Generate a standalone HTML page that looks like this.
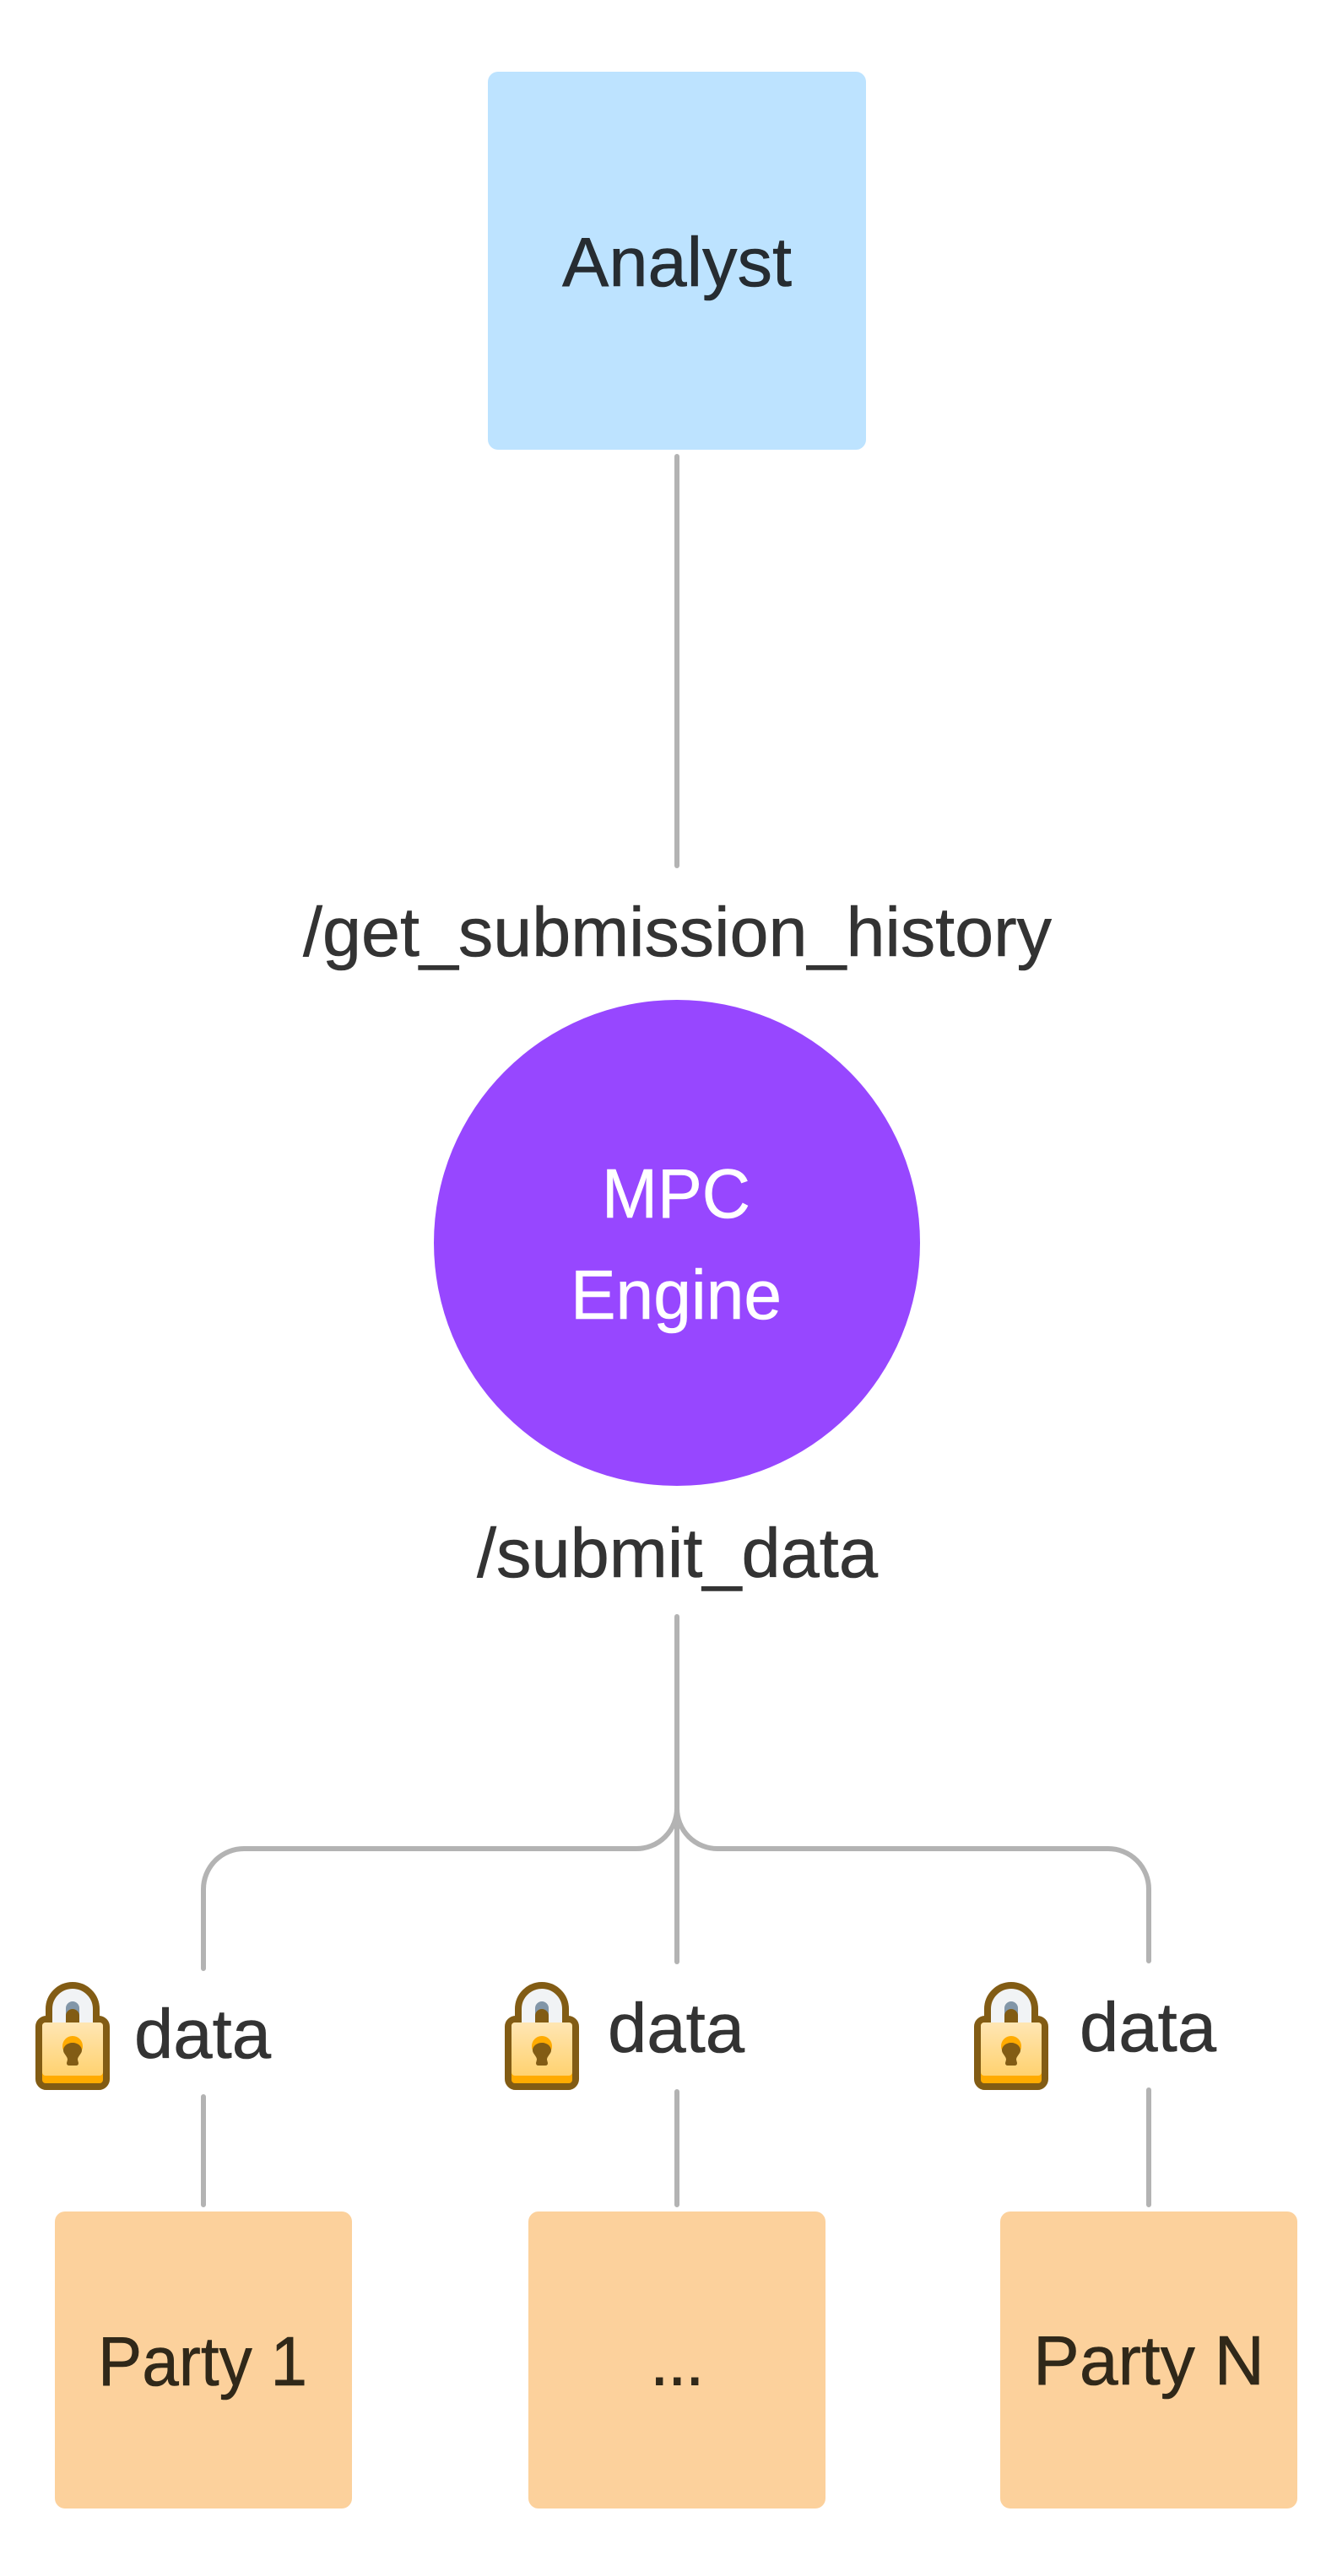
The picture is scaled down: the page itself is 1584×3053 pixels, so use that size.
<!DOCTYPE html>
<html><head><meta charset="utf-8"><style>
html,body{margin:0;padding:0;background:#fff;width:1584px;height:3053px;overflow:hidden}
svg{display:block}
text{font-family:"Liberation Sans",sans-serif;font-size:83px;stroke-width:.6px}
</style></head><body>
<svg width="1584" height="3053" viewBox="0 0 1584 3053" xmlns="http://www.w3.org/2000/svg">
<defs><linearGradient id="g" x1="0" y1="0" x2="0" y2="1"><stop offset="0" stop-color="#ffe6b3"/><stop offset="1" stop-color="#ffd270"/></linearGradient></defs>
<rect width="1584" height="3053" fill="#fff"/>
<rect x="578" y="85" width="448" height="448" rx="12" fill="#bde3ff"/>
<text x="666" y="339" fill="#262c31" stroke="#262c31" textLength="272" lengthAdjust="spacingAndGlyphs">Analyst</text>
<circle cx="802" cy="1473" r="288" fill="#9747ff"/>
<text x="713" y="1443" fill="#fff" stroke="#fff" textLength="176" lengthAdjust="spacingAndGlyphs">MPC</text>
<text x="676" y="1563" fill="#fff" stroke="#fff" textLength="250" lengthAdjust="spacingAndGlyphs">Engine</text>
<text x="359" y="1133" fill="#333" stroke="#333" textLength="887" lengthAdjust="spacingAndGlyphs">/get_submission_history</text>
<text x="565" y="1869" fill="#333" stroke="#333" textLength="475" lengthAdjust="spacingAndGlyphs">/submit_data</text>
<g fill="none" stroke="#b3b3b3" stroke-width="6" stroke-linecap="round">
<path d="M802 541V1026"/>
<path d="M802 1916V2325"/>
<path d="M802 2143A48 48 0 0 1 754 2191H289A48 48 0 0 0 241 2239V2333"/>
<path d="M802 2143A48 48 0 0 0 850 2191H1313A48 48 0 0 1 1361 2239V2324"/>
<path d="M241 2485V2613M802 2479V2613M1361 2477V2613"/>
</g>
<rect x="65" y="2621" width="352" height="352" rx="12" fill="#fcd19c"/>
<rect x="626" y="2621" width="352" height="352" rx="12" fill="#fcd19c"/>
<rect x="1185" y="2621" width="352" height="352" rx="12" fill="#fcd19c"/>
<text x="116" y="2827" fill="#302819" stroke="#302819" textLength="248" lengthAdjust="spacingAndGlyphs">Party 1</text>
<text x="1224" y="2826" fill="#302819" stroke="#302819" textLength="274" lengthAdjust="spacingAndGlyphs">Party N</text>
<text x="769 790 811" y="2827" fill="#302819" style="font-size:88px">...</text>
<text x="159" y="2439" fill="#333" stroke="#333" textLength="162" lengthAdjust="spacingAndGlyphs">data</text>
<text x="720" y="2432" fill="#333" stroke="#333" textLength="162" lengthAdjust="spacingAndGlyphs">data</text>
<text x="1279" y="2431" fill="#333" stroke="#333" textLength="162" lengthAdjust="spacingAndGlyphs">data</text>

<g>
<rect x="46" y="2393" width="80" height="80" rx="9" fill="#825c14" stroke="#825c14" stroke-width="8"/>
<path d="M58 2397V2381A28 28 0 0 1 114 2381V2397" fill="#f1f3f5" stroke="#825c14" stroke-width="8"/>
<path d="M78 2397V2380A8 8 0 0 1 94 2380V2397Z" fill="#8296a8"/>
<path d="M78 2397V2389A8 8 0 0 1 94 2389V2397Z" fill="#825c14"/>
<rect x="50" y="2397" width="72" height="72" rx="4" fill="#ffab00"/>
<path d="M50 2401A4 4 0 0 1 54 2397H118A4 4 0 0 1 122 2401V2456A4 4 0 0 1 118 2460H54A4 4 0 0 1 50 2456Z" fill="url(#g)"/>
<circle cx="86" cy="2425" r="12" fill="#ffab00"/>
<path d="M86 2421C92 2421 97 2425 97 2430C97 2434 92 2437 92 2441L93 2445Q93 2448 90 2448H82Q79 2448 79 2445L80 2441C80 2437 75 2434 75 2430C75 2425 80 2421 86 2421Z" fill="#825c14"/>
</g>
<g transform="translate(556 0)">
<rect x="46" y="2393" width="80" height="80" rx="9" fill="#825c14" stroke="#825c14" stroke-width="8"/>
<path d="M58 2397V2381A28 28 0 0 1 114 2381V2397" fill="#f1f3f5" stroke="#825c14" stroke-width="8"/>
<path d="M78 2397V2380A8 8 0 0 1 94 2380V2397Z" fill="#8296a8"/>
<path d="M78 2397V2389A8 8 0 0 1 94 2389V2397Z" fill="#825c14"/>
<rect x="50" y="2397" width="72" height="72" rx="4" fill="#ffab00"/>
<path d="M50 2401A4 4 0 0 1 54 2397H118A4 4 0 0 1 122 2401V2456A4 4 0 0 1 118 2460H54A4 4 0 0 1 50 2456Z" fill="url(#g)"/>
<circle cx="86" cy="2425" r="12" fill="#ffab00"/>
<path d="M86 2421C92 2421 97 2425 97 2430C97 2434 92 2437 92 2441L93 2445Q93 2448 90 2448H82Q79 2448 79 2445L80 2441C80 2437 75 2434 75 2430C75 2425 80 2421 86 2421Z" fill="#825c14"/>
</g>
<g transform="translate(1112 0)">
<rect x="46" y="2393" width="80" height="80" rx="9" fill="#825c14" stroke="#825c14" stroke-width="8"/>
<path d="M58 2397V2381A28 28 0 0 1 114 2381V2397" fill="#f1f3f5" stroke="#825c14" stroke-width="8"/>
<path d="M78 2397V2380A8 8 0 0 1 94 2380V2397Z" fill="#8296a8"/>
<path d="M78 2397V2389A8 8 0 0 1 94 2389V2397Z" fill="#825c14"/>
<rect x="50" y="2397" width="72" height="72" rx="4" fill="#ffab00"/>
<path d="M50 2401A4 4 0 0 1 54 2397H118A4 4 0 0 1 122 2401V2456A4 4 0 0 1 118 2460H54A4 4 0 0 1 50 2456Z" fill="url(#g)"/>
<circle cx="86" cy="2425" r="12" fill="#ffab00"/>
<path d="M86 2421C92 2421 97 2425 97 2430C97 2434 92 2437 92 2441L93 2445Q93 2448 90 2448H82Q79 2448 79 2445L80 2441C80 2437 75 2434 75 2430C75 2425 80 2421 86 2421Z" fill="#825c14"/>
</g>
</svg>
</body></html>
